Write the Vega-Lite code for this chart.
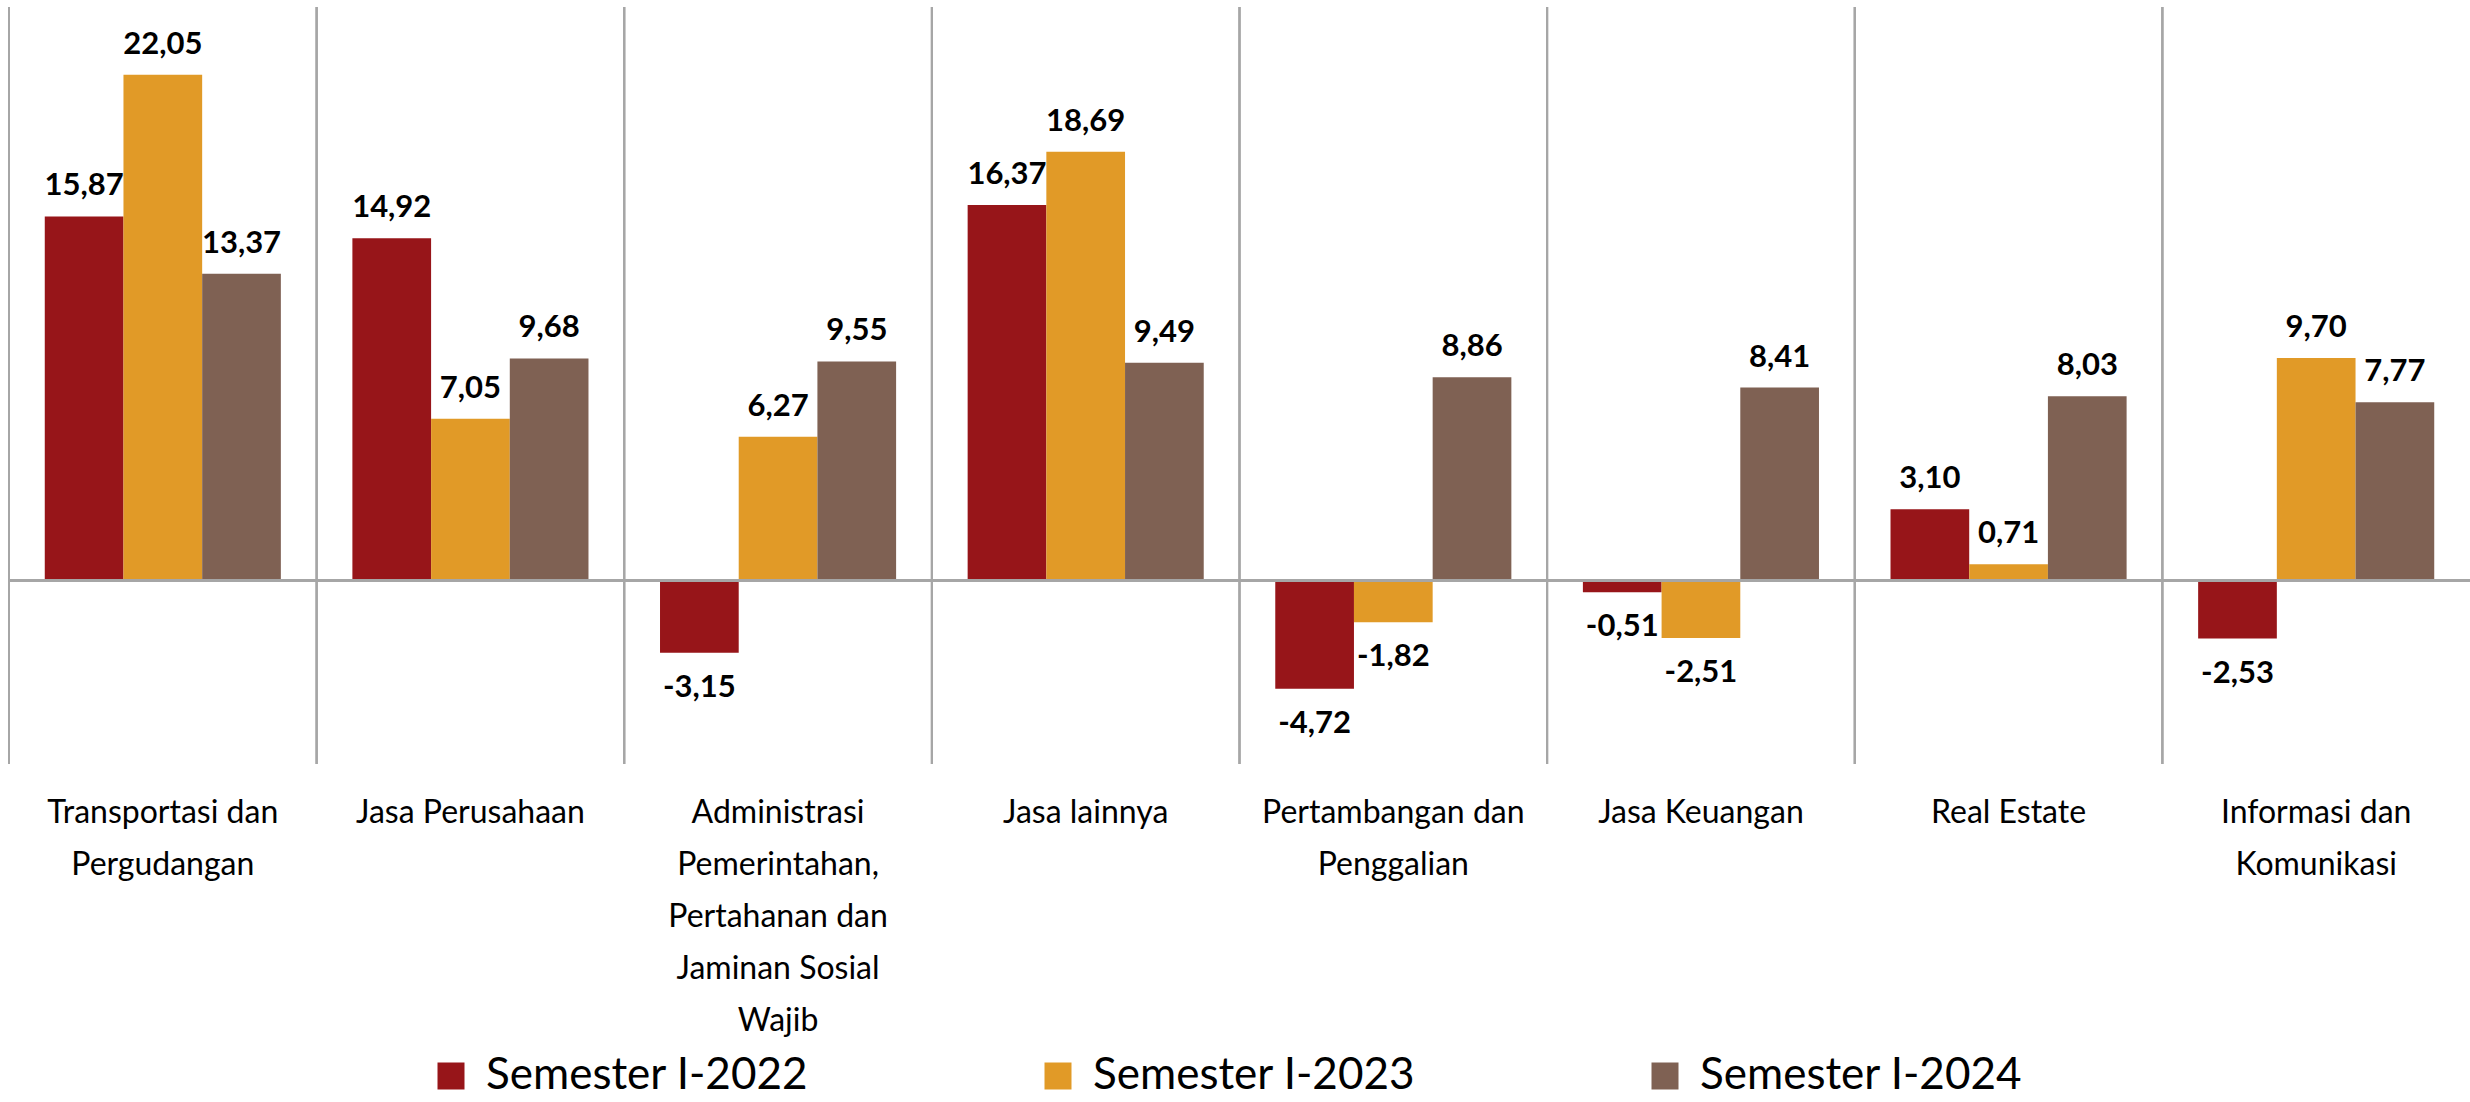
{
  "$schema": "https://vega.github.io/schema/vega-lite/v6.json",
  "width": 2461,
  "height": 757,
  "autosize": {"type": "none"},
  "padding": {"left": 9, "top": 7, "right": 0, "bottom": 338},
  "background": "white",
  "data": {
    "values": [
      {"cat": "Transportasi dan\nPergudangan", "series": "Semester I-2022", "value": 15.87},
      {"cat": "Transportasi dan\nPergudangan", "series": "Semester I-2023", "value": 22.05},
      {"cat": "Transportasi dan\nPergudangan", "series": "Semester I-2024", "value": 13.37},
      {"cat": "Jasa Perusahaan", "series": "Semester I-2022", "value": 14.92},
      {"cat": "Jasa Perusahaan", "series": "Semester I-2023", "value": 7.05},
      {"cat": "Jasa Perusahaan", "series": "Semester I-2024", "value": 9.68},
      {"cat": "Administrasi\nPemerintahan,\nPertahanan dan\nJaminan Sosial\nWajib", "series": "Semester I-2022", "value": -3.15},
      {"cat": "Administrasi\nPemerintahan,\nPertahanan dan\nJaminan Sosial\nWajib", "series": "Semester I-2023", "value": 6.27},
      {"cat": "Administrasi\nPemerintahan,\nPertahanan dan\nJaminan Sosial\nWajib", "series": "Semester I-2024", "value": 9.55},
      {"cat": "Jasa lainnya", "series": "Semester I-2022", "value": 16.37},
      {"cat": "Jasa lainnya", "series": "Semester I-2023", "value": 18.69},
      {"cat": "Jasa lainnya", "series": "Semester I-2024", "value": 9.49},
      {"cat": "Pertambangan dan\nPenggalian", "series": "Semester I-2022", "value": -4.72},
      {"cat": "Pertambangan dan\nPenggalian", "series": "Semester I-2023", "value": -1.82},
      {"cat": "Pertambangan dan\nPenggalian", "series": "Semester I-2024", "value": 8.86},
      {"cat": "Jasa Keuangan", "series": "Semester I-2022", "value": -0.51},
      {"cat": "Jasa Keuangan", "series": "Semester I-2023", "value": -2.51},
      {"cat": "Jasa Keuangan", "series": "Semester I-2024", "value": 8.41},
      {"cat": "Real Estate", "series": "Semester I-2022", "value": 3.10},
      {"cat": "Real Estate", "series": "Semester I-2023", "value": 0.71},
      {"cat": "Real Estate", "series": "Semester I-2024", "value": 8.03},
      {"cat": "Informasi dan\nKomunikasi", "series": "Semester I-2022", "value": -2.53},
      {"cat": "Informasi dan\nKomunikasi", "series": "Semester I-2023", "value": 9.70},
      {"cat": "Informasi dan\nKomunikasi", "series": "Semester I-2024", "value": 7.77}
    ]
  },
  "layer": [
    {
      "mark": {"type": "rule", "color": "#A6A6A6", "strokeWidth": 2},
      "encoding": {
        "x": {"field": "cat", "type": "nominal", "sort": null, "bandPosition": 0}
      }
    },
    {
      "mark": {"type": "bar"},
      "encoding": {
        "x": {"field": "cat", "type": "nominal", "sort": null},
        "xOffset": {"field": "series", "type": "nominal", "sort": null},
        "y": {"field": "value", "type": "quantitative", "scale": {"domain": [-8, 25], "nice": false, "zero": false}},
        "color": {"field": "series", "type": "nominal", "sort": null}
      }
    },
    {
      "mark": {"type": "rule", "color": "#A6A6A6", "strokeWidth": 3},
      "encoding": {"y": {"datum": 0, "type": "quantitative"}}
    },
    {
      "transform": [{"filter": "datum.value >= 0"}],
      "mark": {"type": "text", "baseline": "middle", "align": "center", "dy": -30, "fontWeight": "bold", "fontSize": 31, "font": "Lato", "color": "black"},
      "encoding": {
        "x": {"field": "cat", "type": "nominal", "sort": null},
        "xOffset": {"field": "series", "type": "nominal", "sort": null},
        "y": {"field": "value", "type": "quantitative"},
        "text": {"field": "value", "type": "quantitative", "format": ".2f"}
      }
    },
    {
      "transform": [{"filter": "datum.value < 0"}],
      "mark": {"type": "text", "baseline": "middle", "align": "center", "dy": 35, "fontWeight": "bold", "fontSize": 31, "font": "Lato", "color": "black"},
      "encoding": {
        "x": {"field": "cat", "type": "nominal", "sort": null},
        "xOffset": {"field": "series", "type": "nominal", "sort": null},
        "y": {"field": "value", "type": "quantitative"},
        "text": {"field": "value", "type": "quantitative", "format": ".2f"}
      }
    }
  ],
  "config": {
    "view": {"stroke": null},
    "locale": {"number": {"decimal": ",", "thousands": ".", "grouping": [3], "currency": ["", ""], "minus": "-"}},
    "scale": {"bandPaddingInner": 0, "bandPaddingOuter": 0, "offsetBandPaddingInner": 0, "offsetBandPaddingOuter": 0.4545},
    "axisX": {
      "title": null, "domain": false, "ticks": false, "grid": false, "labelAngle": 0,
      "labelFont": "Lato",
      "labelFontSize": 32, "labelLineHeight": 52, "labelPadding": 33, "labelBaseline": "top",
      "labelColor": "black", "labelLimit": 400, "labelExpr": "split(datum.label, '\\n')"
    },
    "axisY": {"disable": true},
    "legend": {
      "orient": "none", "legendX": 420, "legendY": 1047, "direction": "horizontal",
      "columns": 3, "gridAlign": "all", "columnPadding": 227, "padding": 0,
      "symbolType": "square", "symbolSize": 729, "symbolStrokeWidth": 0,
      "labelFont": "Lato",
      "labelFontSize": 44, "labelOffset": 13, "labelLimit": 500, "labelColor": "black", "title": null
    },
    "range": {"category": ["#971519", "#E19A27", "#7F6153"]}
  }
}
